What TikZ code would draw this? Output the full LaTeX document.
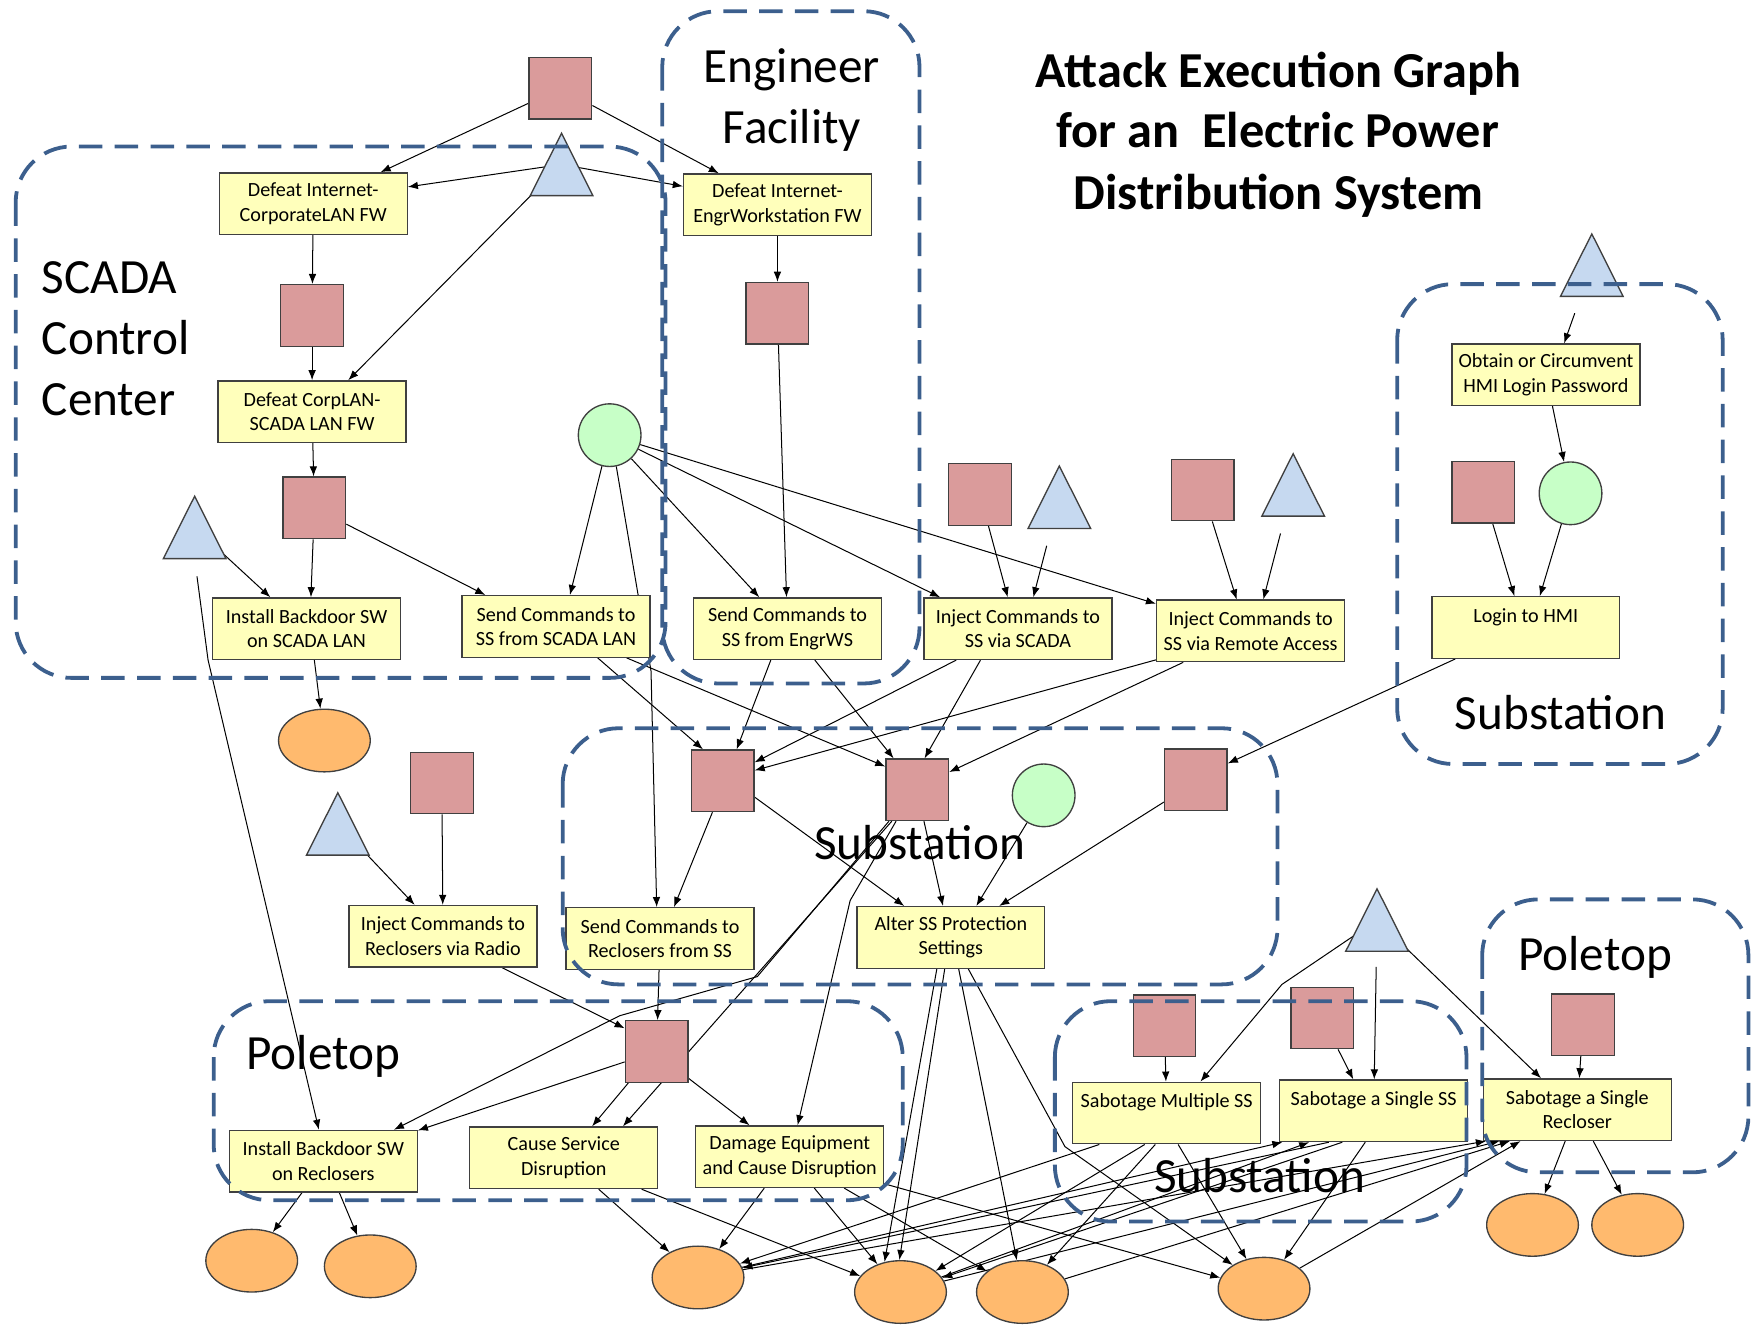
\documentclass[tikz,border=0pt]{standalone}
\usepackage{fontspec}
\setmainfont{Carlito}
\usetikzlibrary{arrows.meta,shapes.geometric,calc}
\pgfdeclarelayer{edges}
\pgfdeclarelayer{front}
\pgfsetlayers{edges,main,front}
\definecolor{sqfill}{RGB}{218,155,155}
\definecolor{trifill}{RGB}{198,217,240}
\definecolor{cirfill}{RGB}{199,255,199}
\definecolor{boxfill}{RGB}{255,255,187}
\definecolor{ellfill}{RGB}{255,186,110}
\definecolor{regionblue}{RGB}{60,95,141}
\definecolor{edgegray}{RGB}{64,64,64}
\begin{document}
\begin{tikzpicture}[x=0.5pt,y=-0.5pt,
 sq/.style={draw=edgegray,fill=sqfill,line width=0.6pt,minimum width=28pt,minimum height=27.5pt,inner sep=0pt},
 trinode/.style={minimum width=15pt,minimum height=27.5pt,inner sep=0pt},
 trishape/.style={draw=edgegray,fill=trifill,line width=0.6pt},
 cir/.style={circle,draw=edgegray,fill=cirfill,line width=0.6pt,minimum size=28pt,inner sep=0pt},
 ell/.style={ellipse,draw=edgegray,fill=ellfill,line width=0.6pt,minimum width=41pt,minimum height=28pt,inner sep=0pt},
 box/.style={draw=edgegray,fill=boxfill,line width=0.6pt,minimum width=84pt,minimum height=27.5pt,inner sep=0.5pt,align=center,font=\fontsize{9}{11}\selectfont},
 regionbox/.style={draw=regionblue,line width=1.7pt,dash pattern=on 10.5pt off 5.5pt,rounded corners=25pt},
 big/.style={font=\fontsize{22}{27}\selectfont,inner sep=0pt},
 ttl/.style={font=\fontsize{22.5}{27}\selectfont\bfseries,inner sep=0pt,anchor=base},
 conn/.style={line width=0.45pt,-{Latex[length=4.5pt,width=3.4pt]}},
]
\useasboundingbox (0,0) rectangle (1568,1184);

% squares
\node[sq] (R0) at (501,79) {};
\node[sq] (R1) at (279,282) {};
\node[sq] (R2) at (695,280) {};
\node[sq] (R3) at (281,454) {};
\node[sq] (R4) at (876,442) {};
\node[sq] (R5) at (1075,438) {};
\node[sq] (R6) at (1326,440) {};
\node[sq] (R7) at (646,698) {};
\node[sq] (R8) at (820,706) {};
\node[sq] (R9) at (1069,697) {};
\node[sq] (R10) at (395,700) {};
\node[sq] (R11) at (587,940) {};
\node[sq] (R12) at (1041,917) {};
\node[sq] (R13) at (1182,910) {};
\node[sq] (R14) at (1415,916) {};

% triangles
\node[trinode] (T0) at (502,147) {};
\node[trinode] (T1) at (174,471.5) {};
\node[trinode] (T2) at (947,444.5) {};
\node[trinode] (T3) at (1156,433.5) {};
\node[trinode] (T4) at (1423,237) {};
\node[trinode] (T5) at (302,736.5) {};
\node[trinode] (T6) at (1231,822.5) {};
\foreach \t in {T0,T1,T2,T3,T4,T5,T6}
  \path[trishape] ([xshift=-14pt]\t.south) -- (\t.north) -- ([xshift=14pt]\t.south) -- cycle;

% circles
\node[cir] (G1) at (545,389) {};
\node[cir] (G2) at (1404,441) {};
\node[cir] (G3) at (933,711) {};

% boxes
\node[box] (B1) at (280,182) {Defeat Internet-\\CorporateLAN FW};
\node[box] (B2) at (695,183) {Defeat Internet-\\EngrWorkstation FW};
\node[box] (B3) at (279,368) {Defeat CorpLAN-\\SCADA LAN FW};
\node[box] (B4) at (274,562) {Install Backdoor SW\\on SCADA LAN};
\node[box] (B5) at (497,560) {Send Commands to\\SS from SCADA LAN};
\node[box] (B6) at (704,562) {Send Commands to\\SS from EngrWS};
\node[box] (B7) at (910,562) {Inject Commands to\\SS via SCADA};
\node[box] (B8) at (1118,564) {Inject Commands to\\SS via Remote Access};
\node[box] (B9) at (1382,335) {Obtain or Circumvent\\HMI Login Password};
\node[box] (B10) at (1364,561) {Login to HMI\\\mbox{}};
\node[box] (B11) at (590,839) {Send Commands to\\Reclosers from SS};
\node[box] (B12) at (850,838) {Alter SS Protection\\Settings};
\node[box] (B13) at (396,837) {Inject Commands to\\Reclosers via Radio};
\node[box] (B14) at (289,1038) {Install Backdoor SW\\on Reclosers};
\node[box] (B15) at (504,1035) {Cause Service\\Disruption};
\node[box] (B16) at (706,1034) {Damage Equipment\\and Cause Disruption};
\node[box] (B17) at (1043,995) {Sabotage Multiple SS\\\mbox{}};
\node[box] (B18) at (1228,993) {Sabotage a Single SS\\\mbox{}};
\node[box] (B19) at (1410,992) {Sabotage a Single\\Recloser};

% ellipses
\node[ell] (O1) at (290,662) {};
\node[ell] (O2) at (225,1127) {};
\node[ell] (O3) at (331,1132) {};
\node[ell] (O4) at (624,1142) {};
\node[ell] (O5) at (805,1155) {};
\node[ell] (O6) at (914,1155) {};
\node[ell] (O7) at (1130,1152) {};
\node[ell] (O8) at (1370,1095) {};
\node[ell] (O9) at (1464,1095) {};

\begin{pgfonlayer}{edges}
\draw[conn] (R0) -- (B1);
\draw[conn] (R0) -- (B2);
\draw[conn] (T0) -- (B1.10);
\draw[conn] (T0) -- (B2.169);
\draw[conn] (T0) -- (B3.41);
\draw[conn] (B1) -- (R1);
\draw[conn] (R1) -- (B3);
\draw[conn] (B2) -- (R2);
\draw[conn] (B3) -- (R3);
\draw[conn] (R3) -- (B4.82);
\draw[conn] (R3) -- (B5.156);
\draw[conn] (T1) -- (B4.139);
\draw[conn,shorten <=8pt] (T1.south) -- (186,590) -- (B14.98);
\draw[conn] (G1) -- (B5.66);
\draw[conn] (G1.-78) -- (582,600) -- (B11.96);
\draw[conn] (G1) -- (B6.132);
\draw[conn] (G1) -- (B7.158);
\draw[conn] (G1) -- (B8.164);
\draw[conn] (R2) -- (B6);
\draw[conn] (R4) -- (B7.108);
\draw[conn,shorten <=8pt] (T2) -- (B7.64);
\draw[conn] (R5) -- (B8.114);
\draw[conn,shorten <=8pt] (T3) -- (B8.68);
\draw[conn,shorten <=8pt] (T4) -- (B9.60);
\draw[conn] (B9) -- (G2);
\draw[conn] (R6) -- (B10.110);
\draw[conn] (G2) -- (B10.66);
\draw[conn] (B10.204) -- (R9.27);
\draw[conn] (B4.284) -- (O1);
\draw[conn] (B5.-37) -- (R7.122);
\draw[conn] (B5.-24) -- (R8.144);
\draw[conn] (B6.242) -- (R7.66);
\draw[conn] (B6.-49) -- (R8.127);
\draw[conn] (B7.207) -- (R7.30);
\draw[conn] (B7.220) -- (R8.77);
\draw[conn] (B8.197) -- (R7.18);
\draw[conn] (B8.205) -- (R8.29);
\draw[conn] (R7.252) -- (B11.66);
\draw[conn] (R7.-27) -- (B12.146);
\draw[conn] (R8.-78) -- (B12.104);
\draw[conn] (G3) -- (B12.51);
\draw[conn] (R9.215) -- (B12.33);
\draw[conn] (T5) -- (B13.132);
\draw[conn] (R10) -- (B13);
\draw[conn] (B13.-28) -- (R11.144);
\draw[conn] (B11) -- (R11);
\draw[conn] (R8.228) -- (677,873) -- (554,908) -- (B14.24);
\draw[conn] (R8.231) -- (B15.28);
\draw[conn] (R8.236) -- (760,805) -- (B16.76);
\draw[conn] (R11.198) -- (B14.18);
\draw[conn] (R11.228) -- (B15.48);
\draw[conn] (R11.-40) -- (B16.142);
\draw[conn] (B14.236) -- (O2);
\draw[conn] (B14.-63) -- (O3);
\draw[conn] (B15.-42) -- (O4);
\draw[conn] (B15.-22) -- (O5);
\draw[conn] (B16.231) -- (O4);
\draw[conn] (B16.-52) -- (O5);
\draw[conn] (B16.-30) -- (O6);
\draw[conn] (B16.-16) -- (O7.166);
\draw[conn] (B12.246) -- (O5.118);
\draw[conn] (B12.259) -- (O5.92);
\draw[conn] (B12.284) -- (O6.100);
\draw[conn] (B12.299) -- (952,1025) -- (O7.143);
\draw[conn] (R12) -- (B17);
\draw[conn] (R13) -- (B18.123);
\draw[conn,shorten <=7pt] (T6) -- (B18);
\draw[conn] (T6) -- (1146,880) -- (B17.43);
\draw[conn] (T6) -- (B19.139);
\draw[conn] (R14) -- (B19);
\draw[conn] (B19.249) -- (O8);
\draw[conn] (B19.-63) -- (O9);
\draw[conn] (B17.205) -- (O4);
\draw[conn] (B17.235) -- (O5);
\draw[conn] (B17.250) -- (O6);
\draw[conn] (B17.290) -- (O7);
\draw[conn] (B18.215) -- (O4);
\draw[conn] (B18.225) -- (O5);
\draw[conn] (B18.255) -- (O7);
\draw[conn] (O4) -- (B18.199);
\draw[conn] (O5) -- (B18.206);
\draw[conn] (O4) -- (B19.199);
\draw[conn] (O5) -- (B19.202);
\draw[conn] (O6) -- (B19.205);
\draw[conn] (O7) -- (B19.209);
\end{pgfonlayer}

\begin{pgfonlayer}{front}
\draw[regionbox] (14,131) rectangle (595,606);
\draw[regionbox] (592,10) rectangle (822,611);
\draw[regionbox] (1249,254) rectangle (1540,683);
\draw[regionbox] (503,651) rectangle (1142,880);
\draw[regionbox] (191,895) rectangle (807,1073);
\draw[regionbox] (943,895) rectangle (1311,1092);
\draw[regionbox] (1325,804) rectangle (1563,1048);

\node[big,anchor=base west] (L1) at (37,262) {SCADA};
\node[big,anchor=base west] (L2) at (37,317) {Control};
\node[big,anchor=base west] (L3) at (37,371) {Center};
\node[big,anchor=base] (L4) at (708,74) {Engineer};
\node[big,anchor=base] (L5) at (708,128) {Facility};
\node[big,anchor=base] (L6) at (1395,652) {Substation};
\node[big,anchor=base] (L7) at (822,768) {Substation};
\node[big,anchor=base] (L8) at (1126,1066) {Substation};
\node[big,anchor=base] (L9) at (289,956) {Poletop};
\node[big,anchor=base] (L10) at (1426,868) {Poletop};
\node[ttl] (H1) at (1143,78) {Attack Execution Graph};
\node[ttl] (H2) at (1142,132) {for an\ \ Electric Power};
\node[ttl] (H3) at (1143,187) {Distribution System};
\end{pgfonlayer}
\end{tikzpicture}
\end{document}
